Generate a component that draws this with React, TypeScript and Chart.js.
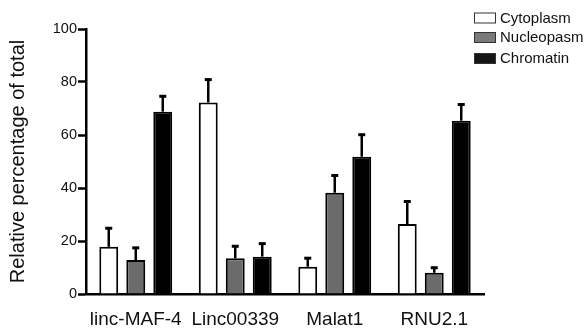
import React, { useEffect, useRef } from "react";
import { Chart, registerables } from "chart.js";

Chart.register(...registerables);

const categories = ["linc-MAF-4", "Linc00339", "Malat1", "RNU2.1"];
const seriesNames = ["Cytoplasm", "Nucleopasm", "Chromatin"];
const cytoplasm = [17.8, 72.3, 10.3, 26.4];
const nucleoplasm = [12.8, 13.5, 38.2, 8.0];
const chromatin = [68.8, 14.1, 51.8, 65.4];
const cytoplasmErr = [7.2, 8.8, 3.4, 8.7];
const nucleoplasmErr = [4.8, 4.7, 6.7, 2.1];
const chromatinErr = [6.0, 5.1, 8.5, 6.3];
const yTicks = [0, 20, 40, 60, 80, 100];
const yTitle = "Relative percentage of total";

const FONT = "'Liberation Sans', Arial, Helvetica, sans-serif";

const errorBarsPlugin = {
  id: "errorBars",
  afterDatasetsDraw(chart: any) {
    const ctx = chart.ctx;
    const yScale = chart.scales.y;
    chart.data.datasets.forEach((ds: any, di: number) => {
      const meta = chart.getDatasetMeta(di);
      const errs: number[] = ds.errors || [];
      meta.data.forEach((el: any, i: number) => {
        const v = ds.data[i];
        const e = errs[i];
        if (e == null) return;
        const x = el.x;
        const y0 = yScale.getPixelForValue(v);
        const y1 = yScale.getPixelForValue(v + e);
        ctx.save();
        ctx.strokeStyle = "#000";
        ctx.lineWidth = 2.5;
        ctx.beginPath();
        ctx.moveTo(x, y0);
        ctx.lineTo(x, y1);
        ctx.stroke();
        ctx.lineWidth = 3;
        ctx.beginPath();
        ctx.moveTo(x - 3.5, y1 + 0.5);
        ctx.lineTo(x + 3.5, y1 + 0.5);
        ctx.stroke();
        ctx.restore();
      });
    });
  },
};

const customLegendPlugin = {
  id: "customLegend",
  afterDraw(chart: any) {
    const ctx = chart.ctx;
    const x0 = 474;
    const rows = [18, 37.5, 58.5];
    ctx.save();
    ctx.font = `15px ${FONT}`;
    ctx.textBaseline = "middle";
    ctx.textAlign = "left";
    chart.data.datasets.forEach((ds: any, i: number) => {
      const cy = rows[i];
      ctx.fillStyle = ds.legendFill;
      ctx.fillRect(x0, cy - 5.5, 22, 11);
      ctx.strokeStyle = "#333";
      ctx.lineWidth = 1;
      ctx.strokeRect(x0 + 0.5, cy - 5.5 + 0.5, 21, 10);
      ctx.fillStyle = "#111";
      ctx.fillText(ds.label, x0 + 26, cy + 0.5);
    });
    ctx.restore();
  },
};

export default function App() {
  const canvasRef = useRef<HTMLCanvasElement | null>(null);

  useEffect(() => {
    if (!canvasRef.current) return;
    Chart.defaults.font.family = FONT;
    const chart = new Chart(canvasRef.current, {
      type: "bar",
      data: {
        labels: categories,
        datasets: [
          {
            label: seriesNames[0],
            data: cytoplasm,
            errors: cytoplasmErr,
            backgroundColor: "#ffffff",
            legendFill: "#ffffff",
            borderColor: "#000",
            borderWidth: 2,
          } as any,
          {
            label: seriesNames[1],
            data: nucleoplasm,
            errors: nucleoplasmErr,
            backgroundColor: "#6b6b6b",
            legendFill: "#7a7a7a",
            borderColor: "#000",
            borderWidth: 2,
          } as any,
          {
            label: seriesNames[2],
            data: chromatin,
            errors: chromatinErr,
            backgroundColor: "#000000",
            legendFill: "#151515",
            borderColor: "#000",
            borderWidth: 2,
          } as any,
        ],
      },
      options: {
        animation: false,
        responsive: true,
        maintainAspectRatio: false,
        layout: { padding: { left: 6, top: 29, right: 103, bottom: 0 } },
        datasets: {
          bar: { categoryPercentage: 0.814, barPercentage: 0.7 },
        },
        plugins: {
          legend: { display: false },
          tooltip: { enabled: false },
        },
        scales: {
          x: {
            grid: { display: false, drawTicks: false },
            border: { display: true, color: "#000", width: 2.5 },
            ticks: {
              color: "#111",
              font: { size: 19 },
              padding: 14,
              maxRotation: 0,
              autoSkip: false,
            },
            afterFit(scale: any) {
              scale.height = 42;
            },
          },
          y: {
            min: 0,
            max: 100,
            afterBuildTicks(scale: any) {
              scale.ticks = yTicks.map((v) => ({ value: v }));
            },
            grid: {
              display: true,
              drawOnChartArea: false,
              drawTicks: true,
              tickLength: 8,
              tickWidth: 2.5,
              tickColor: "#000",
            },
            border: { display: true, color: "#000", width: 2.5 },
            ticks: {
              color: "#111",
              font: { size: 14.5 },
              padding: 1,
            },
            title: {
              display: true,
              text: yTitle,
              color: "#111",
              font: { size: 20 },
              padding: 0,
            },
            afterFit(scale: any) {
              scale.width = 80;
            },
          },
        },
      },
      plugins: [errorBarsPlugin, customLegendPlugin],
    } as any);
    return () => chart.destroy();
  }, []);

  return (
    <div style={{ position: "fixed", left: 0, top: 0, width: 587, height: 336, background: "#fff" }}>
      <canvas ref={canvasRef} />
    </div>
  );
}
